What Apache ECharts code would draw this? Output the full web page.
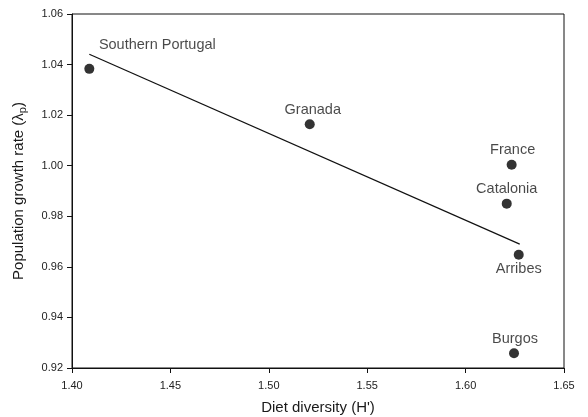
<!DOCTYPE html>
<html><head><meta charset="utf-8">
<script src="https://cdn.jsdelivr.net/npm/echarts@6/dist/echarts.min.js"></script>
<style>html,body{margin:0;padding:0;background:#fff}#c{width:588px;height:417px}</style>
</head><body><div id="c"></div>
<script>
var sites = ['Southern Portugal','Granada','France','Catalonia','Arribes','Burgos'];
var dietDiversity = [1.4088, 1.5208, 1.6234, 1.6209, 1.6270, 1.6246];
var growthRate = [1.0383, 1.0164, 1.0004, 0.9850, 0.9648, 0.9258];
var fitLineX = [1.4088, 1.6275];
var fitLineY = [1.0441, 0.9690];
var xTicks = ['1.40','1.45','1.50','1.55','1.60','1.65'];
var yTicks = ['0.92','0.94','0.96','0.98','1.00','1.02','1.04','1.06'];

var FONT = 'Liberation Sans, Arial, sans-serif';
var labelCfg = {
  'Southern Portugal': {position:'top', offset:[68,-9]},
  'Granada': {position:'top', offset:[3,0]},
  'France': {position:'top', offset:[1,0]},
  'Catalonia': {position:'top', offset:[0,0]},
  'Arribes': {position:'bottom', offset:[0,0]},
  'Burgos': {position:'top', offset:[1,0]}
};
var pts = sites.map(function(s,i){
  var c = labelCfg[s];
  return {name:s, value:[dietDiversity[i], growthRate[i]],
    label:{show:true, formatter:s, position:c.position, offset:c.offset, distance:2,
      fontFamily:FONT, fontSize:14.5, color:'#1a1a1a'}};
});
var fit = fitLineX.map(function(x,i){return [x, fitLineY[i]];});

var axisFont = {fontFamily:FONT, fontSize:11, color:'#222'};
var chart = echarts.init(document.getElementById('c'));
chart.setOption({
  animation:false,
  backgroundColor:'#fff',
  grid:{left:72, right:24, top:14, bottom:49, show:true, borderColor:'#111', borderWidth:1,
        containLabel:false, outerBoundsMode:'none'},
  xAxis:{type:'value', min:1.40, max:1.65, interval:0.05,
    name:"Diet diversity (H')", nameLocation:'middle', nameGap:32,
    nameTextStyle:{fontFamily:FONT, fontSize:15, color:'#1a1a1a'},
    axisLine:{show:true, lineStyle:{color:'#111', width:1}},
    axisTick:{show:true, inside:false, length:5, lineStyle:{color:'#111'}},
    axisLabel:Object.assign({margin:12, formatter:function(v){return xTicks[Math.round((v-1.40)/0.05)];}}, axisFont),
    splitLine:{show:false}},
  yAxis:{type:'value', min:0.92, max:1.06, interval:0.02,
    name:'{a|Population growth rate (λ}{s|p}{a|)}', nameLocation:'middle', nameGap:44, nameRotate:90,
    nameTextStyle:{rich:{
      a:{fontFamily:FONT, fontSize:15, color:'#1a1a1a'},
      s:{fontFamily:FONT, fontSize:11, color:'#1a1a1a', padding:[7,0,0,0]}}},
    axisLine:{show:true, lineStyle:{color:'#111', width:1}},
    axisTick:{show:true, inside:false, length:5, lineStyle:{color:'#111'}},
    axisLabel:Object.assign({margin:9, formatter:function(v){return yTicks[Math.round((v-0.92)/0.02)];}}, axisFont),
    splitLine:{show:false}},
  series:[
    {type:'line', data:fit, symbol:'none', lineStyle:{color:'#111', width:1.2}, silent:true, z:2},
    {type:'scatter', data:pts, symbol:'circle', symbolSize:10, itemStyle:{color:'#000'}, z:3}
  ]
});
</script></body></html>
